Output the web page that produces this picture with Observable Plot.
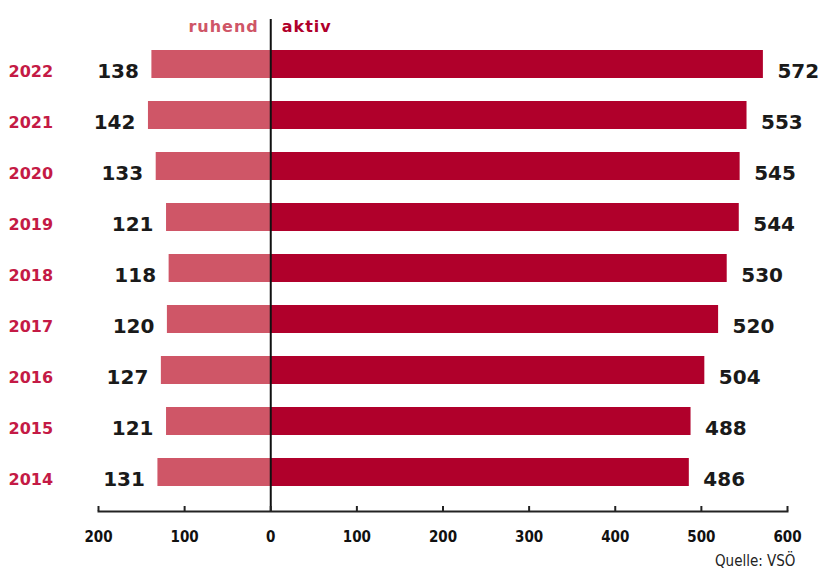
<!DOCTYPE html>
<html><head><meta charset="utf-8">
<script src="https://cdn.jsdelivr.net/npm/d3@7"></script>
<script src="https://cdn.jsdelivr.net/npm/@observablehq/plot@0.6"></script>
<style>body{margin:0;background:#fff}</style>
</head><body><div id="chart"></div>
<script>
const years = ["2022","2021","2020","2019","2018","2017","2016","2015","2014"];
const ruhend = [138,142,133,121,118,120,127,121,131];
const aktiv = [572,553,545,544,530,520,504,488,486];
const xTicks = [-200,-100,0,100,200,300,400,500,600];
const seriesLabels = ["ruhend","aktiv"];
const source = "Quelle: VSÖ";

const colRuhend = "#cf5667";
const colAktiv = "#b0002b";
const colYear = "#c41a45";

const data = years.map((y,i)=>({year:y, ruhend:ruhend[i], aktiv:aktiv[i]}));

const chart = Plot.plot({
  width: 820,
  height: 574,
  marginLeft: 98,
  marginRight: 33,
  marginTop: 19,
  marginBottom: 63,
  style: {fontFamily: "'DejaVu Sans Condensed', 'DejaVu Sans', sans-serif", background: "#fff"},
  x: {domain: [-200, 600]},
  y: {domain: years, range: [25, 510], paddingInner: 0.456, paddingOuter: 0.427, axis: null},
  marks: [
    Plot.barX(data, {y: "year", x1: 0, x2: d => -d.ruhend, fill: colRuhend}),
    Plot.barX(data, {y: "year", x1: 0, x2: "aktiv", fill: colAktiv}),
    Plot.ruleX([0], {stroke: "#111", strokeWidth: 2}),
    Plot.frame({anchor: "bottom", stroke: "#222", strokeWidth: 2}),
    Plot.axisX({ticks: xTicks, tickFormat: d => Math.abs(d), tickSize: -5, tickPadding: 25,
      fontSize: 15, fontWeight: "bold", fill: "#111", stroke: "#222", strokeWidth: 2, label: null}),
    Plot.text(data, {y: "year", text: "year", frameAnchor: "left", dx: -90, dy: 7, textAnchor: "start",
      fill: colYear, fontSize: 16, fontWeight: "bold", fontFamily: "'DejaVu Sans', sans-serif"}),
    Plot.text(data, {y: "year", x: d => -d.ruhend, text: d => String(d.ruhend), textAnchor: "end", dx: -13, dy: 7,
      fill: "#1a1a1a", fontSize: 20, fontWeight: "bold", fontFamily: "'DejaVu Sans', sans-serif"}),
    Plot.text(data, {y: "year", x: "aktiv", text: d => String(d.aktiv), textAnchor: "start", dx: 14, dy: 7,
      fill: "#1a1a1a", fontSize: 20, fontWeight: "bold", fontFamily: "'DejaVu Sans', sans-serif"}),
    Plot.text([seriesLabels[0]], {x: 0, frameAnchor: "top", text: d => d, textAnchor: "end", dx: -12, dy: 7,
      lineAnchor: "middle", fill: colRuhend, fontSize: 16, fontWeight: "bold", fontFamily: "'DejaVu Sans', sans-serif"}),
    Plot.text([seriesLabels[1]], {x: 0, frameAnchor: "top", text: d => d, textAnchor: "start", dx: 11, dy: 7,
      lineAnchor: "middle", fill: colAktiv, fontSize: 16, fontWeight: "bold", fontFamily: "'DejaVu Sans', sans-serif"}),
    Plot.text([source], {frameAnchor: "bottom-right", text: d => d, textAnchor: "end", dx: 8, dy: 54,
      fill: "#222", fontSize: 15, fontFamily: "'Liberation Sans Narrow', 'DejaVu Sans Condensed', sans-serif"})
  ]
});
chart.querySelectorAll("text").forEach(t => {
  if (seriesLabels.includes(t.textContent)) t.setAttribute("letter-spacing", "1");
});
document.getElementById("chart").appendChild(chart);
</script>
</body></html>
